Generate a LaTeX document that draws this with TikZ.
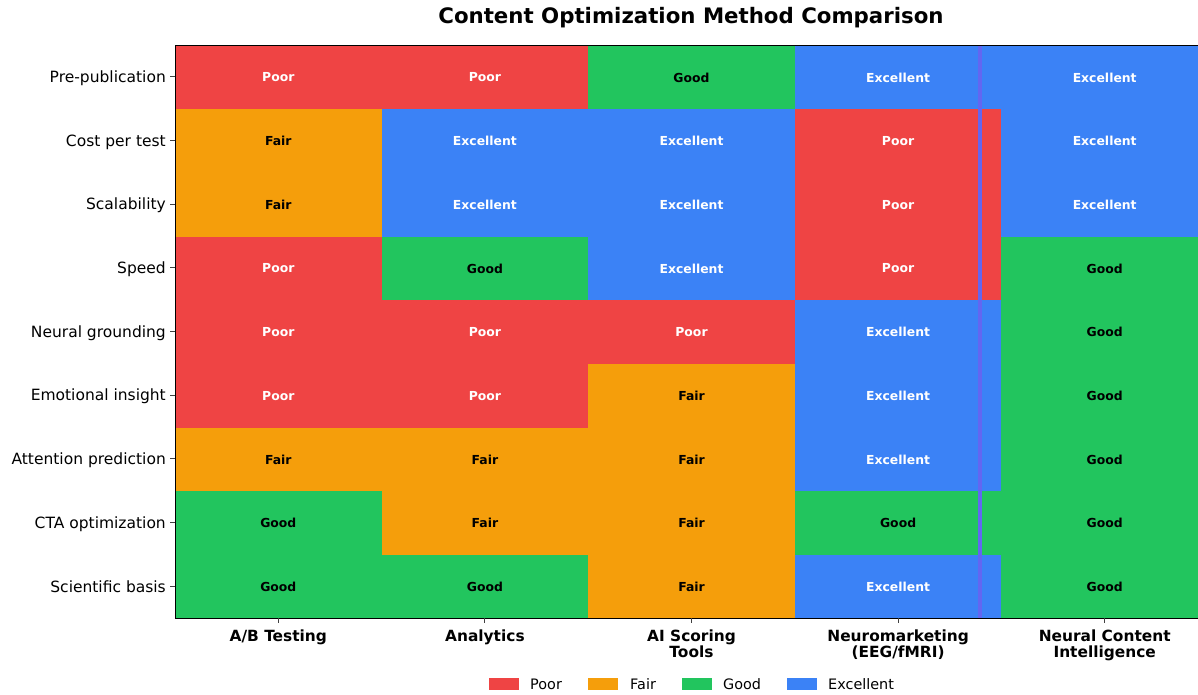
\documentclass[tikz,border=0pt]{standalone}
\usepackage{fontspec}
\setmainfont{DejaVu Sans}
\definecolor{cpoor}{HTML}{EF4444}
\definecolor{cfair}{HTML}{F59E0B}
\definecolor{cgood}{HTML}{22C55E}
\definecolor{cexc}{HTML}{3B82F6}
\definecolor{cmark}{HTML}{6366F1}
\tikzset{
    cell/.style = {minimum width=206.6pt, minimum height=63.7pt, inner sep=0pt,
                   font=\fontsize{12.4}{14}\selectfont\bfseries},
    Poor/.style = {fill=cpoor, text=white},
    Fair/.style = {fill=cfair, text=black},
    Good/.style = {fill=cgood, text=black},
    Excellent/.style = {fill=cexc, text=white},
    rowlabel/.style = {anchor=base east, inner sep=0pt, font=\fontsize{15.5}{17}\selectfont},
    collabel/.style = {anchor=north, align=center, inner sep=0pt,
                       font=\fontsize{15.4}{16.5}\selectfont\bfseries},
    patch/.style = {minimum width=30pt, minimum height=12pt, inner sep=0pt},
    keytext/.style = {anchor=west, inner sep=0pt, font=\fontsize{14.4}{16}\selectfont},
    tick/.style = {draw=black!75, line width=0.9pt}
}
\begin{document}
\begin{tikzpicture}[x=1pt, y=-1pt]
    \useasboundingbox (0,0) rectangle (1198,694);

    % title
    \node (title) at (691,18) {\fontsize{21.3}{23}\selectfont\bfseries Content Optimization Method Comparison};

    % heatmap cells
    \begin{scope}
        \clip (175,45) rectangle (1198,618);
        \foreach \ra/\rb/\rc/\rd/\re [count=\r] in {
            Poor/Poor/Good/Excellent/Excellent,
            Fair/Excellent/Excellent/Poor/Excellent,
            Fair/Excellent/Excellent/Poor/Excellent,
            Poor/Good/Excellent/Poor/Good,
            Poor/Poor/Poor/Excellent/Good,
            Poor/Poor/Fair/Excellent/Good,
            Fair/Fair/Fair/Excellent/Good,
            Good/Fair/Fair/Good/Good,
            Good/Good/Fair/Excellent/Good}
        {
            \foreach \v [count=\c] in {\ra,\rb,\rc,\rd,\re}
                \node [cell,\v] (c-\r-\c) at ({175+(\c-0.5)*206.6},{45.6+(\r-0.5)*63.67}) {\v};
        }
        % highlight line
        \coordinate (mtop) at (980,45);
        \coordinate (mbot) at (980,618);
        \draw [cmark, line width=4pt] (mtop) -- (mbot);
    \end{scope}

    % axes
    \draw [line width=1pt] (1198,45) -- (175,45) -- (175,618) -- (1198,618);

    % row labels
    \foreach \lab [count=\r] in {Pre-publication, Cost per test, Scalability, Speed,
        Neural grounding, Emotional insight, Attention prediction, CTA optimization,
        Scientific basis}
    {
        \draw [tick] (175,{45+(\r-0.5)*63.67}) -- ++(-5,0);
        \node [rowlabel] (yl-\r) at (166,{50.8+(\r-0.5)*63.67}) {\lab};
    }

    % column labels
    \foreach \lab [count=\c] in {A/B Testing, Analytics, AI Scoring\\Tools,
        Neuromarketing\\(EEG/fMRI), Neural Content\\Intelligence}
    {
        \draw [tick] ({175+(\c-0.5)*206.6},618) -- ++(0,5);
        \node [collabel] (xl-\c) at ({175+(\c-0.5)*206.6},629.5) {\lab};
    }

    % legend
    \node [patch, fill=cpoor] (k-poor) at (504,684) {};
    \node [keytext] (kt-poor) at (530,684) {Poor};
    \node [patch, fill=cfair] (k-fair) at (603,684) {};
    \node [keytext] (kt-fair) at (630,684) {Fair};
    \node [patch, fill=cgood] (k-good) at (697,684) {};
    \node [keytext] (kt-good) at (723,684) {Good};
    \node [patch, fill=cexc] (k-exc) at (802,684) {};
    \node [keytext] (kt-exc) at (828,684) {Excellent};

\end{tikzpicture}
\end{document}
